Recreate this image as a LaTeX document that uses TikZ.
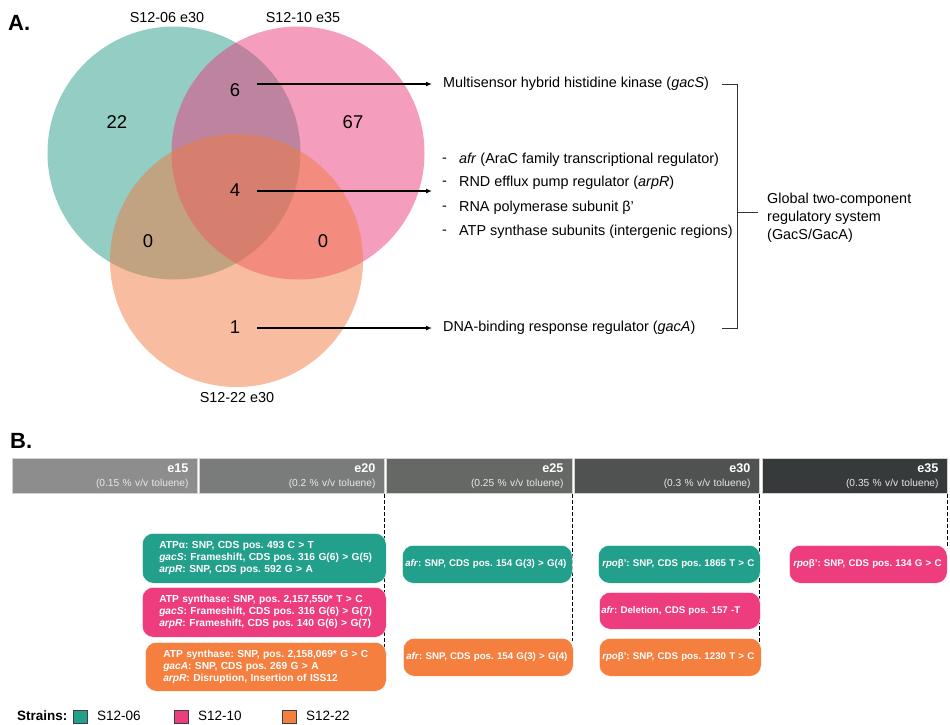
\documentclass[tikz,border=0pt]{standalone}
\usepackage{fontspec}
\setmainfont{Liberation Sans}
\usetikzlibrary{arrows.meta}
\definecolor{vteal}{RGB}{39,155,135}
\definecolor{vpink}{RGB}{235,59,123}
\definecolor{vorange}{RGB}{241,123,65}
\definecolor{bteal}{RGB}{34,160,139}
\definecolor{bpink}{RGB}{238,61,126}
\definecolor{borange}{RGB}{244,127,63}
\definecolor{hA}{RGB}{141,141,141}
\definecolor{hB}{RGB}{122,124,123}
\definecolor{hC}{RGB}{102,104,102}
\definecolor{hD}{RGB}{79,82,81}
\definecolor{hE}{RGB}{54,58,58}
\definecolor{sub}{RGB}{232,232,232}
\newcommand{\fsz}[2]{\fontsize{#1}{#2}\selectfont}
\newcommand{\Lb}[1]{\mbox{#1}}
\frenchspacing
\begin{document}
\frenchspacing
\begin{tikzpicture}[x=1pt,y=-1pt,
  venn/.style={circle, minimum size=253pt, inner sep=0pt, fill opacity=0.5},
  vlab/.style={font=\fsz{14.4}{17}, inner sep=0pt},
  num/.style={font=\fsz{18.5}{20}, inner sep=0pt},
  txt/.style={font=\fsz{14.4}{18}, inner sep=0pt, anchor=west},
  arr/.style={line width=1.2pt, -{Latex[length=6pt,width=5pt]}},
  brk/.style={line width=1pt, draw=black!80},
  plab/.style={font=\bfseries\fsz{22}{24}, inner sep=0pt, anchor=west},
  hdr/.style={anchor=north west, minimum height=35pt, inner xsep=9pt, inner ysep=0pt, text width=167pt, align=right, draw=black!18, line width=1pt, text=white, font=\fsz{10.2}{14}},
  dsh/.style={dashed, dash pattern=on 4pt off 2pt, line width=0.9pt},
  mbox/.style={anchor=north west, rounded corners=11pt, text=white, align=left, font=\bfseries\fsz{10.2}{12}\frenchspacing, inner ysep=0pt, draw=white, line width=0.5pt},
  sbox/.style={mbox, font=\bfseries\fsz{9.7}{12}\frenchspacing, minimum height=38pt},
  leg/.style={minimum width=14pt, minimum height=13pt, inner sep=0pt, draw=black!75, line width=1pt, anchor=north west},
  legt/.style={font=\fsz{13.5}{16}, inner sep=0pt, anchor=west}
]
\useasboundingbox (0,0) rectangle (950,724);

% ---------- Panel A ----------
\node[plab] (pA) at (8,23) {A.};
\node[venn, fill=vteal] (cT) at (174,153) {};
\node[venn, fill=vpink] (cP) at (298,153) {};
\node[venn, fill=vorange] (cO) at (236.5,260.5) {};

\node[vlab] (lT) at (167,18) {S12-06 e30};
\node[vlab] (lP) at (303,18) {S12-10 e35};
\node[vlab] (lO) at (237,398) {S12-22 e30};

\node[num] (n22) at (117,122) {22};
\node[num] (n6) at (235,90) {6};
\node[num] (n67) at (353,122) {67};
\node[num] (n4) at (235,190) {4};
\node[num] (n0a) at (148,241) {0};
\node[num] (n0b) at (323,241) {0};
\node[num] (n1) at (235,327) {1};

\node[txt] (t6) at (443,84) {Multisensor hybrid histidine kinase (\textit{gacS})};
\node[txt] (t1) at (443,328) {DNA-binding response regulator (\textit{gacA})};
\node[txt] (d1) at (442,160) {-};
\node[txt] (d2) at (442,183) {-};
\node[txt] (d3) at (442,208) {-};
\node[txt] (d4) at (442,232) {-};
\node[txt] (l1) at (459,160) {\textit{afr} (AraC family transcriptional regulator)};
\node[txt] (l2) at (459,183) {RND efflux pump regulator (\textit{arpR})};
\node[txt] (l3) at (459,208) {RNA polymerase subunit β’};
\node[txt] (l4) at (459,232) {ATP synthase subunits (intergenic regions)};
\node[txt, align=left] (tg) at (767,218) {Global two-component\\regulatory system\\(GacS/GacA)};

\coordinate (s6) at (257,84);
\coordinate (s4) at (257,191);
\coordinate (e4) at (432,191);
\coordinate (s1) at (257,328);
\draw[arr, shorten >=11pt] (s6) -- (t6);
\draw[arr] (s4) -- (e4);
\draw[arr, shorten >=11pt] (s1) -- (t1);

\coordinate (bk1) at (722,84);
\coordinate (bk2) at (737,84);
\coordinate (bk3) at (737,328);
\coordinate (bk4) at (722,328);
\coordinate (bk5) at (737,212);
\coordinate (bk6) at (758,212);
\draw[brk] (bk1) -- (bk2) -- (bk3) -- (bk4);
\draw[brk] (bk5) -- (bk6);

% ---------- Panel B ----------
\node[plab] (pB) at (10,441) {B.};

\node[hdr, fill=hA] (h15) at (12,458) {{\bfseries\fsz{12.6}{14}e15}\\{\color{sub}(0.15 \% v/v toluene)}};
\node[hdr, fill=hB] (h20) at (199,458) {{\bfseries\fsz{12.6}{14}e20}\\{\color{sub}(0.2 \% v/v toluene)}};
\node[hdr, fill=hC, text width=168pt] (h25) at (386,458) {{\bfseries\fsz{12.6}{14}e25}\\{\color{sub}(0.25 \% v/v toluene)}};
\node[hdr, fill=hD] (h30) at (574,458) {{\bfseries\fsz{12.6}{14}e30}\\{\color{sub}(0.3 \% v/v toluene)}};
\node[hdr, fill=hE] (h35) at (762,458) {{\bfseries\fsz{12.6}{14}e35}\\{\color{sub}(0.35 \% v/v toluene)}};

\draw[dsh] ([xshift=-1pt]h20.south east) -- ++(0,189);
\draw[dsh] ([xshift=-1pt]h25.south east) -- ++(0,147);
\draw[dsh] ([xshift=-1pt]h30.south east) -- ++(0,152);
\draw[dsh] ([xshift=-1pt]h35.south east) -- ++(0,54);

\node[mbox, fill=bteal, inner xsep=17pt, text width=210pt, minimum height=50pt] (b1) at (142,533)
  {\Lb{ATPα: SNP, CDS pos. 493 C > T}\\\Lb{\textit{gacS}: Frameshift, CDS pos. 316 G(6) > G(5)}\\\Lb{\textit{arpR}: SNP, CDS pos. 592 G > A}};
\node[mbox, fill=bpink, inner xsep=17pt, text width=210pt, minimum height=50pt] (b2) at (142,587)
  {\Lb{ATP synthase: SNP, pos. 2,157,550* T > C}\\\Lb{\textit{gacS}: Frameshift, CDS pos. 316 G(6) > G(7)}\\\Lb{\textit{arpR}: Frameshift, CDS pos. 140 G(6) > G(7)}};
\node[mbox, fill=borange, inner xsep=18pt, text width=205pt, minimum height=49pt] (b3) at (145,642)
  {\Lb{ATP synthase: SNP, pos. 2,158,069* G > C}\\\Lb{\textit{gacA}: SNP, CDS pos. 269 G > A}\\\Lb{\textit{arpR}: Disruption, Insertion of ISS12}};

\node[sbox, fill=bteal, inner xsep=3pt, text width=164pt] (b4) at (402,545)
  {\Lb{\textit{afr}: SNP, CDS pos. 154 G(3) > G(4)}};
\node[sbox, fill=borange, inner xsep=3pt, text width=164pt] (b5) at (403,638)
  {\Lb{\textit{afr}: SNP, CDS pos. 154 G(3) > G(4)}};

\node[sbox, fill=bteal, inner xsep=4pt, text width=154pt] (b6) at (598,545)
  {\Lb{\textit{rpo}β’: SNP, CDS pos. 1865 T > C}};
\node[sbox, fill=bpink, inner xsep=2pt, text width=157pt, minimum height=37pt] (b7) at (599,592)
  {\Lb{\textit{afr}: Deletion, CDS pos. 157 -T}};
\node[sbox, fill=borange, inner xsep=3pt, text width=156pt] (b8) at (599,638)
  {\Lb{\textit{rpo}β’: SNP, CDS pos. 1230 T > C}};

\node[sbox, fill=bpink, inner xsep=4pt, text width=150pt] (b9) at (789,545)
  {\Lb{\textit{rpo}β’: SNP, CDS pos. 134 G > C}};

% legend
\node[legt, font=\bfseries\fsz{13.5}{16}] (ls) at (17,716) {Strains:};
\node[leg, fill=bteal] (q1) at (73,710) {};
\node[legt] (q1t) at (97,716) {S12-06};
\node[leg, fill=bpink] (q2) at (174,710) {};
\node[legt] (q2t) at (198,716) {S12-10};
\node[leg, fill=borange] (q3) at (282,710) {};
\node[legt] (q3t) at (306,716) {S12-22};
\end{tikzpicture}
\end{document}
